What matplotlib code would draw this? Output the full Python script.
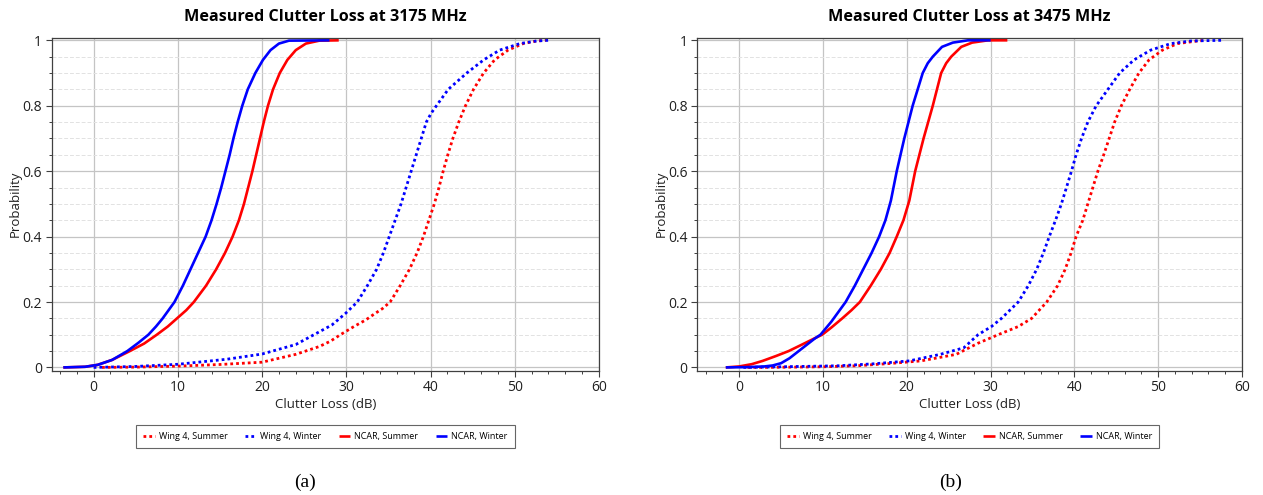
import matplotlib
matplotlib.use("Agg")
import matplotlib.pyplot as plt
from matplotlib.ticker import MultipleLocator

plt.rcParams['font.family'] = ['Open Sans', 'DejaVu Sans']

# ---------------- data (a) 3175 MHz ----------------
a_w4_sum_x = [1, 5, 10, 15, 20, 24, 26.8, 28.1, 29.3, 30.9, 32.3, 33.3, 34.3, 35.2, 36.4, 37.5, 38.4, 39.15,
              39.8, 40.45, 41.0, 41.5, 42.05, 42.65, 43.35, 44.15, 45.1, 46.3, 47.6, 49.2, 51.0, 52.6, 53.7]
a_w4_sum_p = [0, 0.001, 0.004, 0.009, 0.016, 0.04, 0.064, 0.08, 0.1, 0.125, 0.145, 0.163, 0.18, 0.2, 0.25, 0.3, 0.35, 0.4,
              0.45, 0.5, 0.55, 0.6, 0.65, 0.7, 0.75, 0.8, 0.85, 0.9, 0.94, 0.97, 0.99, 0.998, 1.0]

a_w4_win_x = [0, 5, 10, 15.8, 20, 24, 26.8, 28.3, 29.9, 31.3, 32.5, 33.6, 34.4, 35.1, 35.8, 36.5,
              37.1, 37.7, 38.3, 38.9, 39.5, 40.05, 40.7, 42.1, 44.3, 46.3, 48.2, 50.6, 52.6, 54.0]
a_w4_win_p = [0, 0.003, 0.0096, 0.025, 0.041, 0.07, 0.109, 0.13, 0.165, 0.2, 0.25, 0.3, 0.35, 0.4, 0.45, 0.5,
              0.55, 0.6, 0.65, 0.7, 0.75, 0.776, 0.8, 0.85, 0.9, 0.94, 0.97, 0.99, 0.998, 1.0]

a_ncar_sum_x = [-3.6, -1, 0.5, 2.2, 4.3, 6.0, 7.5, 8.8, 9.9, 11.0, 11.9, 13.35, 14.55, 15.6, 16.5, 17.25,
                17.85, 18.35, 18.85, 19.3, 19.75, 20.2, 20.7, 21.3, 22.1, 23.0, 24.0, 25.2, 26.8, 29.1]
a_ncar_sum_p = [0, 0.002, 0.008, 0.023, 0.05, 0.073, 0.1, 0.125, 0.15, 0.175, 0.2, 0.25, 0.3, 0.35, 0.4, 0.45,
                0.5, 0.55, 0.6, 0.65, 0.7, 0.75, 0.8, 0.85, 0.9, 0.94, 0.97, 0.99, 0.999, 1.0]

a_ncar_win_x = [-3.6, -1, 0.5, 2.2, 4.0, 5.3, 6.5, 7.4, 8.2, 9.6, 10.6, 11.5, 12.4, 13.3, 14.0, 14.6, 15.15,
                15.65, 16.15, 16.6, 17.1, 17.65, 18.3, 19.2, 20.1, 21.0, 22.0, 23.2, 28.0]
a_ncar_win_p = [0, 0.002, 0.008, 0.023, 0.05, 0.075, 0.1, 0.125, 0.15, 0.2, 0.25, 0.3, 0.35, 0.4, 0.45, 0.5, 0.55,
                0.6, 0.65, 0.7, 0.75, 0.8, 0.85, 0.9, 0.94, 0.97, 0.99, 0.999, 1.0]

# ---------------- data (b) 3475 MHz ----------------
b_w4_sum_x = [1, 5, 10, 14, 18, 21.7, 25.9, 28.5, 30.9, 33.3, 34.9, 36.7, 38.0, 38.9, 39.6, 40.2,
              41.0, 41.6, 42.2, 42.8, 43.5, 44.15, 44.8, 45.6, 46.6, 47.7, 48.9, 50.5, 52.3, 54.7, 55.6]
b_w4_sum_p = [0, 0.0005, 0.002, 0.005, 0.012, 0.02, 0.04, 0.074, 0.1, 0.125, 0.15, 0.2, 0.25, 0.3, 0.35, 0.4,
              0.45, 0.5, 0.55, 0.6, 0.65, 0.7, 0.75, 0.8, 0.85, 0.9, 0.94, 0.97, 0.99, 0.998, 1.0]

b_w4_win_x = [0.5, 5, 11.8, 16, 20.3, 24.0, 26.8, 28.5, 30.1, 31.3, 33.3, 34.5, 35.5, 36.3, 37.0,
              37.75, 38.45, 39.05, 39.65, 40.2, 40.85, 41.6, 42.6, 44.0, 45.4, 47.1, 49.1, 51.5, 53.9, 57.6]
b_w4_win_p = [0, 0.002, 0.005, 0.011, 0.02, 0.04, 0.06, 0.1, 0.125, 0.15, 0.2, 0.25, 0.3, 0.35, 0.4,
              0.45, 0.5, 0.55, 0.6, 0.65, 0.7, 0.75, 0.8, 0.85, 0.9, 0.94, 0.97, 0.99, 0.998, 1.0]

b_ncar_sum_x = [-1.6, 0, 1.5, 2.8, 4.4, 5.9, 7.5, 9.0, 9.9, 11.0, 12.3, 13.4, 14.4, 15.7, 16.9, 17.95, 18.8,
                19.6, 20.3, 21.0, 22.0, 23.1, 23.6, 24.1, 24.7, 25.3, 26.5, 27.8, 29.7, 32.0]
b_ncar_sum_p = [0, 0.003, 0.01, 0.02, 0.035, 0.05, 0.07, 0.089, 0.1, 0.122, 0.15, 0.175, 0.2, 0.25, 0.3, 0.35, 0.4,
                0.45, 0.51, 0.6, 0.7, 0.8, 0.85, 0.9, 0.93, 0.95, 0.98, 0.993, 1.0, 1.0]

b_ncar_win_x = [-1.6, 1, 3, 4, 5, 6, 7.1, 8, 9, 9.7, 11, 12.7, 13.8, 14.8, 15.8, 16.7, 17.45, 18.1,
                18.8, 19.7, 20.7, 21.3, 21.9, 22.5, 23.1, 24.2, 25.5, 27.3, 30.0]
b_ncar_win_p = [0, 0.001, 0.003, 0.006, 0.013, 0.028, 0.05, 0.068, 0.088, 0.1, 0.14, 0.2, 0.25, 0.3, 0.35, 0.4,
                0.45, 0.51, 0.6, 0.7, 0.8, 0.85, 0.9, 0.93, 0.95, 0.98, 0.993, 1.0, 1.0]

labels = ["Wing 4, Summer", "Wing 4, Winter", "NCAR, Summer", "NCAR, Winter"]
colors = ["#ff0000", "#0000ff", "#ff0000", "#0000ff"]
dotted = (0, (1, 1.1))
styles = [dotted, dotted, "-", "-"]

titles = ["Measured Clutter Loss at 3175 MHz", "Measured Clutter Loss at 3475 MHz"]
captions = ["(a)", "(b)"]
xticks = [0, 10, 20, 30, 40, 50, 60]
yticks = [0, 0.2, 0.4, 0.6, 0.8, 1.0]
ytick_labels = ["0", "0.2", "0.4", "0.6", "0.8", "1"]

panels = [
    [(a_w4_sum_x, a_w4_sum_p), (a_w4_win_x, a_w4_win_p), (a_ncar_sum_x, a_ncar_sum_p), (a_ncar_win_x, a_ncar_win_p)],
    [(b_w4_sum_x, b_w4_sum_p), (b_w4_win_x, b_w4_win_p), (b_ncar_sum_x, b_ncar_sum_p), (b_ncar_win_x, b_ncar_win_p)],
]

W, H = 1263, 495
fig = plt.figure(figsize=(W / 100, H / 100), dpi=100)
axes_rects = [
    [51.5 / W, 1 - 370.7 / H, (599 - 51.5) / W, (370.7 - 37.7) / H],
    [697.3 / W, 1 - 370.7 / H, (1242 - 697.3) / W, (370.7 - 37.7) / H],
]
edge = "#404040"
for i in range(2):
    ax = fig.add_axes(axes_rects[i])
    for (xs, ps), lab, c, ls in zip(panels[i], labels, colors, styles):
        if ls == "-":
            ax.plot(xs, ps, color=c, lw=1.9, ls=ls, label=lab, solid_capstyle="butt",
                    solid_joinstyle="round")
        else:
            ax.plot(xs, ps, color=c, lw=2.0, ls=ls, label=lab, dash_capstyle="butt")
    ax.set_xlim(-5, 60)
    ax.set_ylim(-0.01, 1.008)
    ax.set_xticks(xticks)
    ax.set_yticks(yticks)
    ax.set_yticklabels(ytick_labels)
    ax.xaxis.set_minor_locator(MultipleLocator(2))
    ax.yaxis.set_minor_locator(MultipleLocator(0.05))
    ax.grid(which="major", color="#c4c4c4", lw=0.9)
    ax.grid(which="minor", axis="y", color="#e2e2e2", lw=0.7, ls=(0, (4, 2)))
    ax.set_axisbelow(True)
    ax.tick_params(which="major", direction="out", length=4, width=0.8, color=edge,
                   labelsize=10, labelcolor="#202020", pad=3)
    ax.tick_params(which="minor", direction="out", length=2.5, width=0.7, color=edge)
    for s in ax.spines.values():
        s.set_color(edge)
        s.set_linewidth(0.9)
    ax.set_title(titles[i], fontsize=11.6, fontweight="bold", pad=12)
    ax.set_xlabel("Clutter Loss (dB)", fontsize=9.5, labelpad=2, color="#202020")
    ax.set_ylabel("Probability", fontsize=9.5, labelpad=0.5, color="#202020")
    leg = ax.legend(loc="upper center", bbox_to_anchor=(0.5, -0.163), ncol=4, fontsize=6.5,
                    frameon=True, fancybox=False, edgecolor=edge, handlelength=1.3,
                    handletextpad=0.45, columnspacing=1.9, borderpad=0.8, borderaxespad=0)
    leg.get_frame().set_linewidth(0.8)
    cx = (axes_rects[i][0] + axes_rects[i][2] / 2)
    fig.text(cx - 0.016 if i == 0 else cx - 0.015, 1 - 482 / H, captions[i], family="Liberation Serif",
             fontsize=14, ha="center", va="center")

fig.savefig("out.png", dpi=100)
